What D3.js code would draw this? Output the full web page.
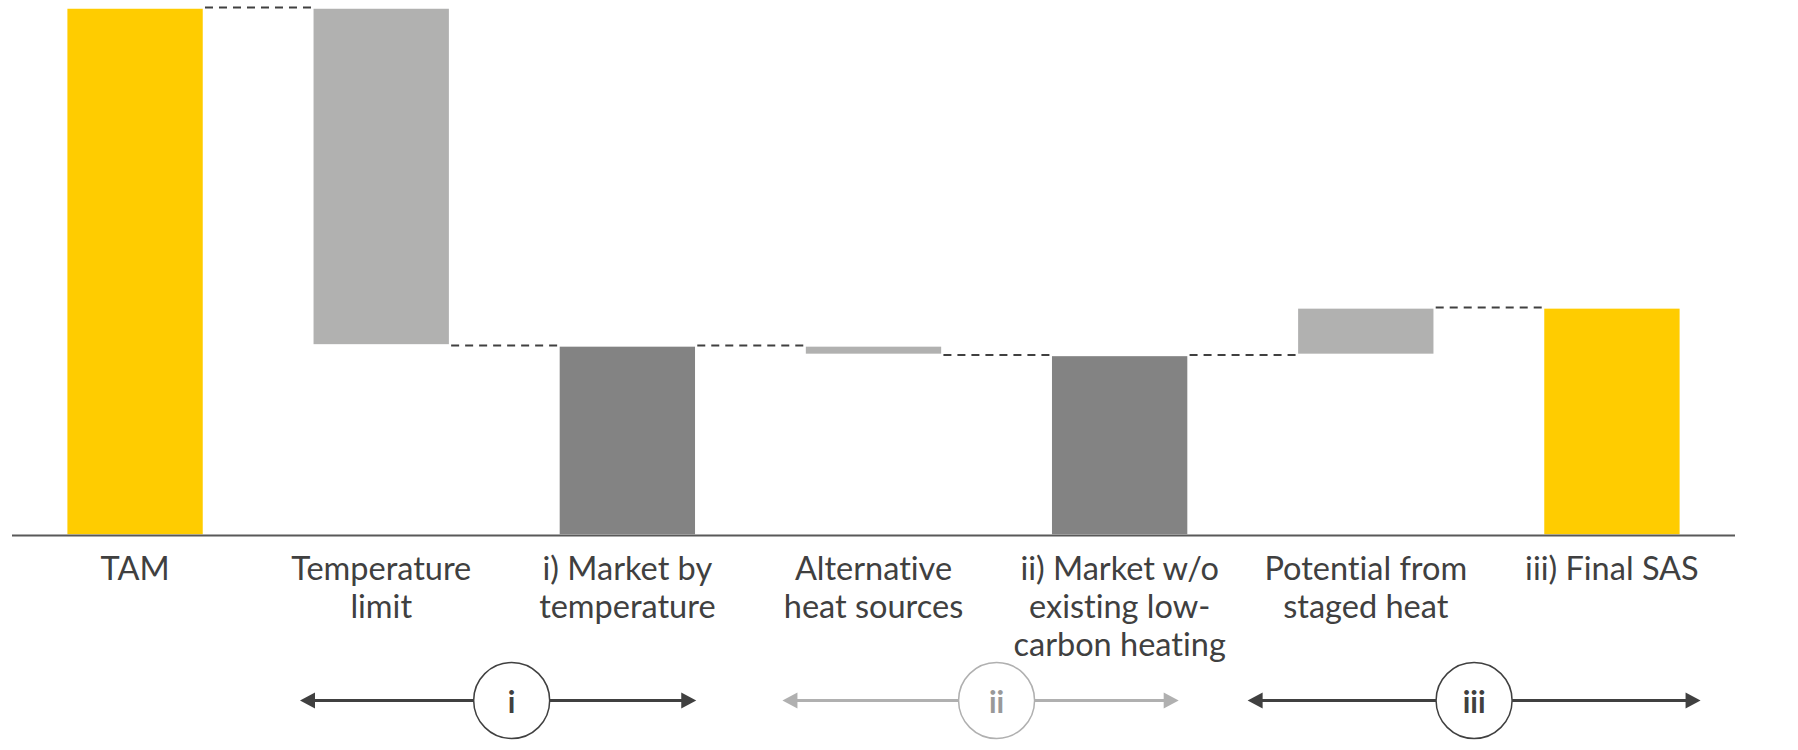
<!DOCTYPE html>
<html>
<head>
<meta charset="utf-8">
<script src="https://cdn.jsdelivr.net/npm/d3@7"></script>
<style>
  body { margin: 0; background: #fff; }
  svg { display: block; font-family: Lato, "Open Sans", sans-serif; font-variant-ligatures: none; }
  .cat-label { font-size: 32.5px; fill: #404040; }
  .stage-label { font-size: 30px; font-weight: 700; }
</style>
</head>
<body>
<svg id="chart"></svg>
<script>
// ── Data ──────────────────────────────────────────────────────────────────────
const categories = [
  "TAM",
  "Temperature limit",
  "i) Market by temperature",
  "Alternative heat sources",
  "ii) Market w/o existing low-carbon heating",
  "Potential from staged heat",
  "iii) Final SAS"
];
const labelLines = [
  ["TAM"],
  ["Temperature", "limit"],
  ["i) Market by", "temperature"],
  ["Alternative", "heat sources"],
  ["ii) Market w/o", "existing low-", "carbon heating"],
  ["Potential from", "staged heat"],
  ["iii) Final SAS"]
];
const kinds  = ["total", "delta", "subtotal", "delta", "subtotal", "delta", "total"];
const values = [100, -64, 36, -1.8, 34.2, 9, 43.2];

const stages = ["i", "ii", "iii"];
const stageFirst = [1, 3, 5];
const stageLast  = [2, 4, 6];
const stageMuted = [false, true, false];

// ── Layout ────────────────────────────────────────────────────────────────────
const width = 1798, height = 750;
const baseY = 535.5, topY = 7.5;

const colors = { total: "#ffcc00", subtotal: "#838383", delta: "#b1b1b0" };

// waterfall steps
let running = 0;
const steps = categories.map((c, i) => {
  let y0, y1;
  if (kinds[i] === "delta") {
    y0 = running; y1 = running + values[i];
  } else {
    y0 = 0; y1 = values[i];
  }
  running = y1;
  return { cat: c, kind: kinds[i], lo: Math.min(y0, y1), hi: Math.max(y0, y1), end: y1, i };
});

const x = d3.scaleBand()
  .domain(categories)
  .range([12, 1735])
  .paddingInner(0.44)
  .paddingOuter(0.22);

const y = d3.scaleLinear().domain([0, 100]).range([baseY, topY]);

const svg = d3.select("#chart")
  .attr("width", width).attr("height", height)
  .attr("viewBox", `0 0 ${width} ${height}`);

// bars
svg.append("g").selectAll("rect")
  .data(steps)
  .join("rect")
  .attr("x", (d) => x(d.cat))
  .attr("y", (d) => y(d.hi))
  .attr("width", x.bandwidth())
  .attr("height", (d) => y(d.lo) - y(d.hi))
  .attr("fill", (d) => colors[d.kind])
  .attr("stroke", "#fff")
  .attr("stroke-width", 2.5);

// connectors
svg.append("g").selectAll("line")
  .data(steps.slice(0, -1))
  .join("line")
  .attr("x1", (d) => x(d.cat) + x.bandwidth() + 1)
  .attr("x2", (d) => x(categories[d.i + 1]) - 1)
  .attr("y1", (d) => y(d.end))
  .attr("y2", (d) => y(d.end))
  .attr("stroke", "#404040")
  .attr("stroke-width", 2)
  .attr("stroke-dasharray", "8,6");

// axis line
svg.append("line")
  .attr("x1", 12).attr("x2", 1735)
  .attr("y1", baseY).attr("y2", baseY)
  .attr("stroke", "#595959")
  .attr("stroke-width", 2);

// category labels
const labels = svg.append("g").selectAll("text")
  .data(labelLines)
  .join("text")
  .attr("class", "cat-label")
  .attr("text-anchor", "middle")
  .attr("x", (d, i) => x(categories[i]) + x.bandwidth() / 2)
  .attr("y", 580);

labels.selectAll("tspan")
  .data((d) => d)
  .join("tspan")
  .attr("x", function () { return d3.select(this.parentNode).attr("x"); })
  .attr("dy", (d, j) => (j === 0 ? 0 : 38))
  .text((d) => d);

// stage brackets
const step = x.step();
const center = (i) => x(categories[i]) + x.bandwidth() / 2;
// offsets in steps: left tip, right tip, circle centre
const stageGeom = [
  [-0.33, 0.28, 0.53],
  [-0.37, 0.24, 0.50],
  [-0.48, 0.36, 0.44]
];
const arrowY = 700.5, r = 38;

stages.forEach((s, k) => {
  const col = stageMuted[k] ? "#b0b0b0" : "#404040";
  const txt = stageMuted[k] ? "#999999" : "#404040";
  const x0 = center(stageFirst[k]) + stageGeom[k][0] * step;
  const x1 = center(stageLast[k]) + stageGeom[k][1] * step;
  const cx = center(stageFirst[k]) + stageGeom[k][2] * step;
  const g = svg.append("g");
  const head = 15, hh = 8;

  g.append("line")
    .attr("x1", x0 + head - 1).attr("x2", cx - r)
    .attr("y1", arrowY).attr("y2", arrowY)
    .attr("stroke", col).attr("stroke-width", 3);
  g.append("line")
    .attr("x1", cx + r).attr("x2", x1 - head + 1)
    .attr("y1", arrowY).attr("y2", arrowY)
    .attr("stroke", col).attr("stroke-width", 3);
  g.append("path")
    .attr("d", `M${x0},${arrowY}L${x0 + head},${arrowY - hh}L${x0 + head},${arrowY + hh}Z`)
    .attr("fill", col);
  g.append("path")
    .attr("d", `M${x1},${arrowY}L${x1 - head},${arrowY - hh}L${x1 - head},${arrowY + hh}Z`)
    .attr("fill", col);
  g.append("circle")
    .attr("cx", cx).attr("cy", arrowY).attr("r", r)
    .attr("fill", "#fff")
    .attr("stroke", col).attr("stroke-width", 1.5);
  g.append("text")
    .attr("class", "stage-label")
    .attr("x", cx).attr("y", arrowY + 12)
    .attr("text-anchor", "middle")
    .attr("fill", txt)
    .text(s);
});
</script>
</body>
</html>
